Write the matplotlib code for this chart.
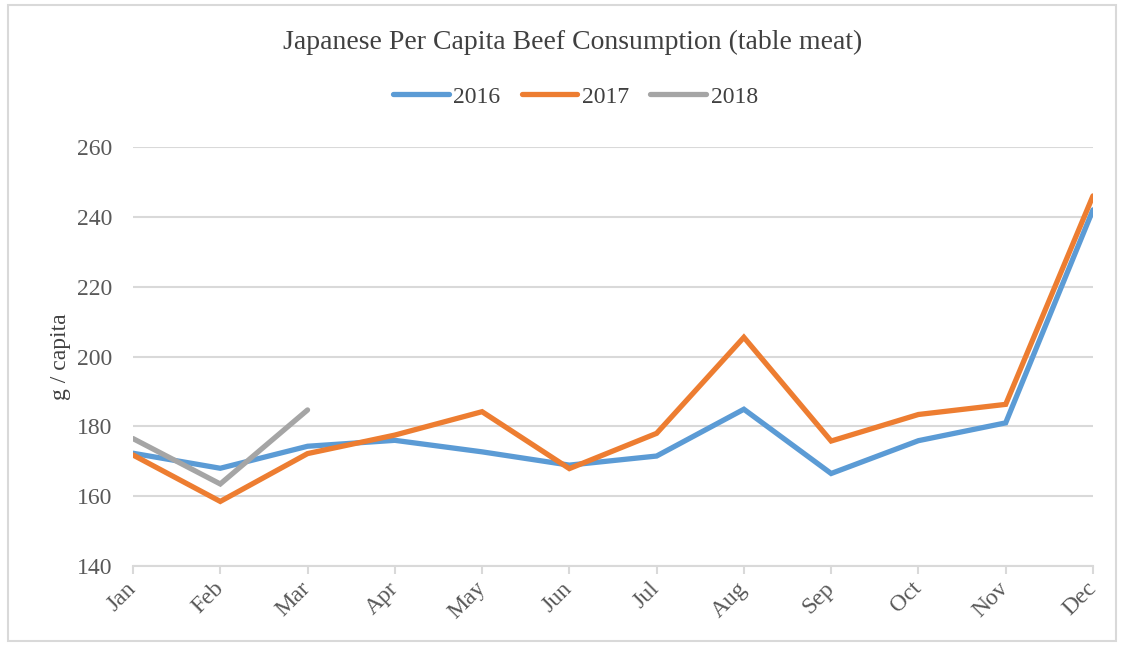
import matplotlib.pyplot as plt
import matplotlib.transforms as mtransforms
from matplotlib.patches import Rectangle

months = ['Jan', 'Feb', 'Mar', 'Apr', 'May', 'Jun', 'Jul', 'Aug', 'Sep', 'Oct', 'Nov', 'Dec']
y2016 = [172.3, 168.0, 174.3, 176.0, 172.7, 168.9, 171.5, 184.9, 166.5, 175.9, 181.0, 242.0]
y2017 = [171.8, 158.5, 172.2, 177.5, 184.2, 167.9, 178.0, 205.5, 175.8, 183.4, 186.3, 246.0]
y2018 = [176.5, 163.5, 184.7]
yticks = [140, 160, 180, 200, 220, 240, 260]

plt.rcParams['font.family'] = ['Liberation Serif', 'DejaVu Serif']
txt = '#595959'
grid = '#D9D9D9'

fig = plt.figure(figsize=(11.32, 6.46), dpi=100)
ax = fig.add_axes([0.1175, 0.1238, 0.848, 0.6486])

x = list(range(len(months)))
ax.plot(x, y2016, color='#5B9BD5', lw=3.8, label='2016', solid_capstyle='round', solid_joinstyle='miter')
ax.plot(x, y2017, color='#ED7D31', lw=3.8, label='2017', solid_capstyle='round', solid_joinstyle='miter')
ax.plot(x[:len(y2018)], y2018, color='#A5A5A5', lw=3.8, label='2018', solid_capstyle='round', solid_joinstyle='miter')

ax.set_xlim(0, 11)
ax.set_ylim(140, 260)
ax.set_yticks(yticks)
ax.set_xticks(x)
ax.set_xticklabels(months, rotation=45, ha='right', va='center', rotation_mode='anchor')
# nudge month labels a little to the right like the original
offset = mtransforms.ScaledTranslation(7 / 72, -2 / 72, fig.dpi_scale_trans)
for lab in ax.get_xticklabels():
    lab.set_transform(lab.get_transform() + offset)
ax.grid(axis='y', color=grid, lw=1.5)
ax.set_axisbelow(True)
for s in ['top', 'right', 'left']:
    ax.spines[s].set_visible(False)
ax.spines['bottom'].set_color(grid)
ax.spines['bottom'].set_linewidth(1.5)
ax.tick_params(axis='y', length=0, pad=15, labelsize=17, labelcolor=txt)
ax.tick_params(axis='x', length=6, width=1.5, color=grid, pad=8, labelsize=17, labelcolor=txt)
ax.set_ylabel('g / capita', fontsize=17, color='#404040', labelpad=4)

fig.suptitle('Japanese Per Capita Beef Consumption (table meat)', x=0.506, y=0.935, va='center',
             fontsize=20, color='#404040')
ax.legend(loc='center', bbox_to_anchor=(0.461, 1.12), ncol=3, frameon=False,
          fontsize=17, handlelength=2.35, handletextpad=0.2, columnspacing=0.9,
          labelcolor='#404040')

fig.patches.append(Rectangle((0.007, 0.008), 0.979, 0.985, transform=fig.transFigure,
                             fill=False, edgecolor='#D9D9D9', lw=1.5))

fig.savefig('out.png', dpi=100)
